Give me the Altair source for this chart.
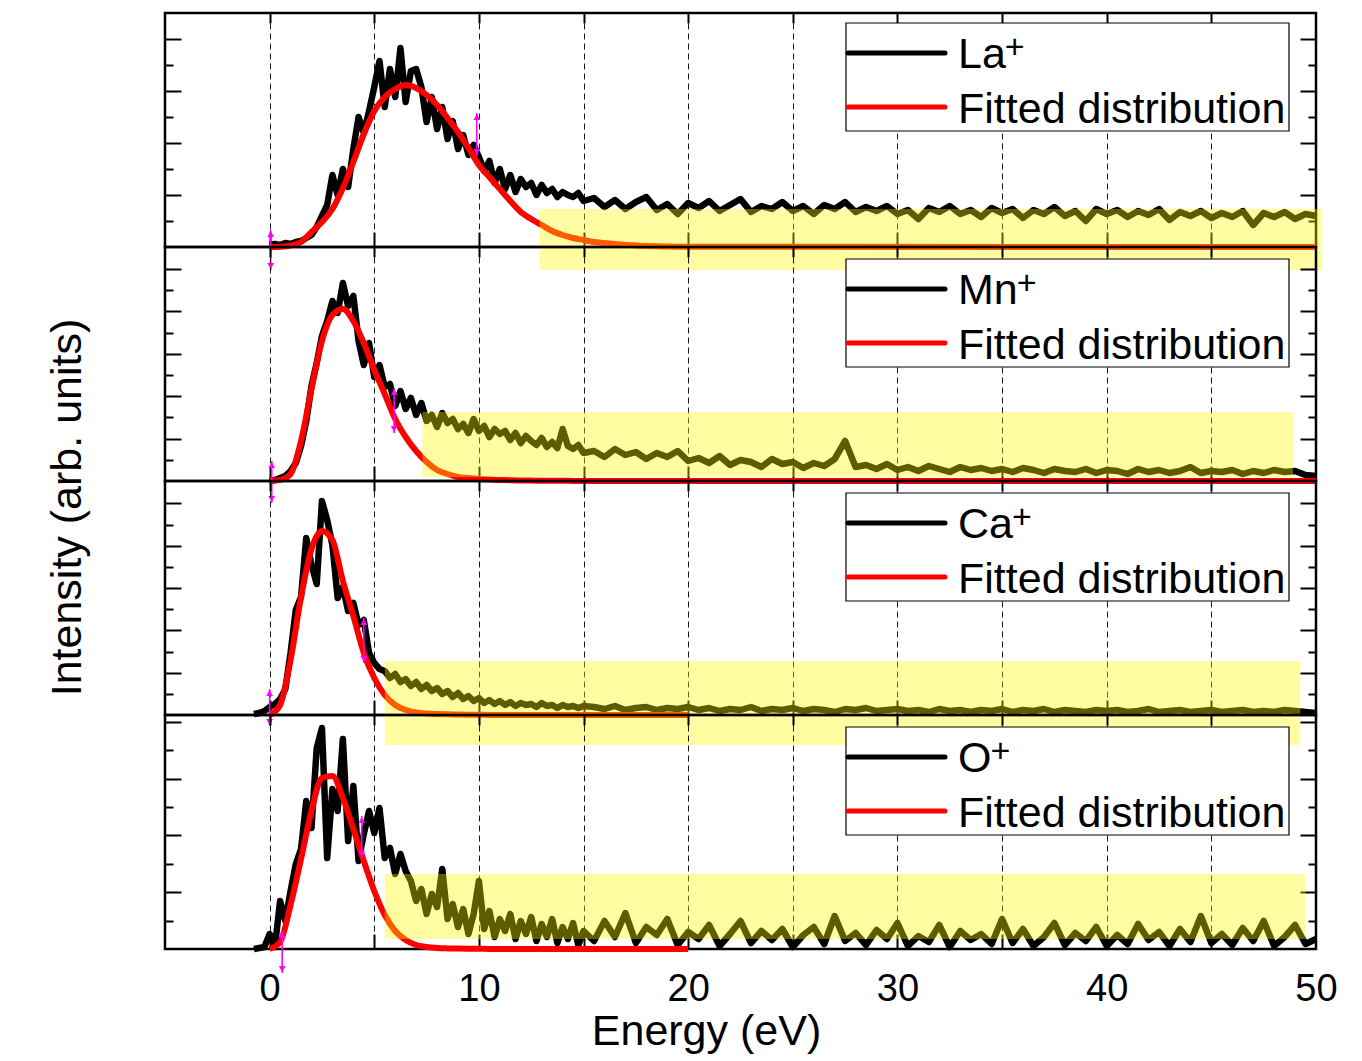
import altair as alt
import pandas as pd

FONT = "Liberation Sans"

# ------------------------------------------------------------------ data
ions = ["La", "Mn", "Ca", "O"]
charge = "+"
fit_label = "Fitted distribution"

energy_pre = [-0.75, -0.5, -0.25]
energy_peak = [round(0.25 * i, 2) for i in range(61)]          # 0 .. 15 eV
energy_tail = [round(15.5 + 0.5 * i, 1) for i in range(70)]    # 15.5 .. 50 eV
fit_energy = [0.5 * i for i in range(41)] + [50.0]              # 0 .. 20 eV, 50 eV

la_pre = [None, None, None]
la_peak = [2, 3, 2, 4, 3, 5, 6, 9, 12, 20,
           31, 42, 72, 52, 78, 60, 98, 130, 114, 136,
           160, 186, 140, 178, 150, 199, 145, 176, 178, 160,
           125,
           150, 118, 140, 108, 126, 98, 112, 92, 102, 90,
           76, 86, 64, 78, 58, 72, 55, 68, 60, 64,
           52, 62, 54, 58, 50, 55, 52, 50, 54, 46]
la_tail = [49, 40, 47, 38, 45, 50, 37, 43, 33, 44,
           39, 46, 36, 42, 48, 35, 41, 38, 45, 36,
           41, 33, 42, 38, 45, 35, 40, 36, 41, 33,
           37, 28, 39, 35, 41, 33, 37, 30, 39, 34,
           38, 29, 37, 33, 40, 31, 36, 26, 38, 33,
           37, 30, 36, 32, 38, 27, 35, 31, 36, 29,
           34, 30, 36, 22, 34, 30, 35, 28, 33, 31]
la_fit = [0, 0.3, 1.5, 5, 15, 25, 38, 59, 85, 113,
          136, 150, 158, 162, 159, 152, 142, 129, 115, 99,
          82, 70, 58, 46, 35, 28, 22, 16, 12, 9,
          7, 5, 4, 3, 2, 1.5, 1, 0.7, 0.5, 0.3,
          0.2, 0]

mn_pre = [None, None, None]
mn_peak = [0, 1, 3, 5, 10, 18, 35, 60, 95, 118,
           145, 160, 180, 168, 198, 175, 185, 140, 116, 138,
           104, 116, 94, 97, 75, 90, 72, 83, 66, 78,
           60, 66, 54, 68, 58, 62, 52, 57, 48, 62,
           50, 55, 44, 52, 47, 50, 41, 48, 38, 45,
           40, 36, 43, 34, 39, 33, 52, 35, 32, 36,
           28]
mn_tail = [30, 24, 32, 26, 29, 22, 28, 24, 30, 20,
           23, 18, 25, 16, 21, 19, 14, 22, 17, 19,
           13, 18, 15, 22, 40, 14, 16, 12, 17, 11,
           14, 10, 15, 12, 9, 14, 11, 13, 10, 12,
           9, 13, 11, 8, 12, 10, 9, 12, 8, 11,
           10, 7, 12, 9, 11, 8, 10, 14, 8, 10,
           9, 11, 7, 10, 8, 11, 9, 10, 6, 5]
mn_fit = [0, 1, 7, 40, 92, 140, 166, 172, 160, 138,
          111, 87, 62, 44, 30, 19, 11, 7, 4, 3,
          2, 1.5, 1, 0.7, 0.5, 0.4, 0.3, 0.2, 0.2, 0.1,
          0.1, 0.1, 0, 0, 0, 0, 0, 0, 0, 0,
          0, 0]

ca_pre = [1, 2, 4]
ca_peak = [8, 11, 16, 26, 62, 105, 118, 177, 150, 131,
           214, 195, 170, 117, 128, 104, 112, 90, 95, 62,
           52, 46, 44, 37, 41, 33, 36, 29, 33, 26,
           30, 24, 27, 21, 24, 18, 22, 16, 19, 14,
           17, 12, 15, 11, 14, 10, 13, 9, 12, 10,
           11, 8, 12, 9, 10, 7, 10, 8, 9, 7,
           9]
ca_tail = [8, 6, 9, 5, 7, 8, 5, 7, 6, 8,
           5, 7, 4, 6, 5, 8, 4, 6, 5, 7,
           4, 6, 5, 3, 6, 5, 7, 4, 5, 6,
           4, 5, 3, 6, 4, 5, 3, 5, 4, 6,
           3, 5, 4, 6, 3, 5, 4, 3, 5, 4,
           5, 3, 4, 6, 3, 4, 5, 3, 4, 5,
           3, 4, 5, 3, 4, 3, 5, 4, 3, 2]
ca_fit = [0, 10, 55, 118, 166, 184, 175, 134, 99, 62,
          37, 20, 10, 5, 2.5, 1.5, 1, 0.7, 0.5, 0.3,
          0.2, 0.1, 0.1, 0, 0, 0, 0, 0, 0, 0,
          0, 0, 0, 0, 0, 0, 0, 0, 0, 0,
          0, None]

o_pre = [0, 1, 2]
o_peak = [15, 2, 48, 28, 58, 85, 100, 148, 121, 201,
          221, 91, 160, 138, 210, 108, 163, 88, 115, 138,
          116, 141, 91, 101, 75, 95, 78, 68, 48, 60,
          35, 55, 42, 80, 30, 45, 22, 40, 15, 35,
          68, 20, 38, 12, 30, 18, 35, 10, 28, 15,
          32, 8, 25, 12, 30, 6, 22, 10, 26, 4,
          18]
o_tail = [8, 28, 12, 36, 6, 22, 14, 30, 4, 17,
          10, 24, 3, 15, 28, 6, 18, 9, 20, 2,
          14, 22, 5, 33, 8, 16, 4, 19, 10, 26,
          3, 13, 7, 24, 2, 18, 9, 15, 5, 30,
          6, 20, 3, 12, 26, 4, 16, 8, 22, 3,
          14, 5, 25, 9, 17, 3, 20, 7, 33, 6,
          15, 4, 21, 8, 28, 3, 12, 24, 5, 10]
o_fit = [0, 7, 44, 90, 138, 171, 173, 151, 120, 88,
         58, 34, 18, 9, 4, 2, 1, 0.6, 0.4, 0.3,
         0.2, 0.1, 0.1, 0, 0, 0, 0, 0, 0, 0,
         0, 0, 0, 0, 0, 0, 0, 0, 0, 0,
         0, None]

pre = [la_pre, mn_pre, ca_pre, o_pre]
peak = [la_peak, mn_peak, ca_peak, o_peak]
tail = [la_tail, mn_tail, ca_tail, o_tail]
fits = [la_fit, mn_fit, ca_fit, o_fit]

# highlighted (background) regions
band_x1 = [12.9, 7.3, 5.5, 5.5]
band_x2 = [50.3, 48.9, 49.25, 49.5]
band_y1 = [-23, 4, -30, 10]
band_y2 = [38, 69, 54, 75]

# magenta double arrows
arrow_x = [[0.05, 9.9], [0.1, 5.95], [0.0, 4.5], [0.6, 4.4]]
arrow_top = [[17, 134], [20, 93], [26, 97], [18, 133]]
arrow_bottom = [[-23, 91], [-22, 48], [-11, 52], [-24, 91]]

# y tick positions (arb. units) per panel
y_major = [[52, 104, 156, 208],
           [42.4, 84.8, 127.2, 169.6, 212],
           [42.3, 84.6, 126.9, 169.2, 211.5],
           [56.8, 113.6, 170.4, 227.2]]
y_minor = [[26, 78, 130, 182],
           [21.2, 63.6, 106, 148.4, 190.8],
           [21.15, 63.45, 105.75, 148.05, 190.35],
           [28.4, 85.2, 142, 198.8]]

x_ticks = [0, 5, 10, 15, 20, 25, 30, 35, 40, 45]
x_labels = [0, 10, 20, 30, 40, 50]

# ------------------------------------------------------------------ layout
W, H = 1151, 234
legend_top = [10, 12, 12, 12]
char_w = {"L": 0.556, "a": 0.556, "M": 0.833, "n": 0.556, "C": 0.722, "O": 0.778}
LEG_FS = 43


def no_axis_y(vals, orient, size, offset, title=None, **kw):
    return alt.Axis(orient=orient, values=vals, offset=offset, tickSize=size,
                    tickWidth=2, tickColor="black", labels=False, domain=False,
                    grid=False, title=title, **kw)


def make_panel(k):
    ion = ions[k]
    xs = alt.Scale(domain=[-5, 50], nice=False, zero=False)
    ys = alt.Scale(domain=[0, H], nice=False, zero=False)

    df_data = pd.DataFrame({"energy": energy_pre + energy_peak + energy_tail,
                            "intensity": pre[k] + peak[k] + tail[k]})
    df_fit = pd.DataFrame({"energy": fit_energy, "intensity": fits[k]})
    df_band = pd.DataFrame({"x1": [band_x1[k]], "x2": [band_x2[k]],
                            "y1": [band_y1[k]], "y2": [band_y2[k]]})
    df_arrow = pd.DataFrame({"energy": arrow_x[k], "top": arrow_top[k],
                             "bottom": arrow_bottom[k]})

    grid_axis = alt.Axis(orient="bottom", values=x_ticks, grid=True, gridColor="black",
                         gridDash=[6, 4], gridWidth=1, gridOpacity=0.9, ticks=False,
                         labels=False, domain=False, title=None)
    bottom_ticks = alt.Axis(orient="bottom", values=x_ticks, offset=-15, tickSize=15,
                            tickWidth=2, tickColor="black", labels=False, domain=False,
                            grid=False, title=None)
    top_ticks = alt.Axis(orient="top", values=x_ticks, offset=-10, tickSize=10,
                         tickWidth=2, tickColor="black", labels=False, domain=False,
                         grid=False, title=None)

    if k == 2:
        left_major = no_axis_y(y_major[k], "left", 16, -16,
                               title="Intensity (arb. units)",
                               titleFont=FONT, titleFontSize=43, titleFontWeight="normal",
                               titleColor="black", titleAngle=270, titleX=-114, titleY=26,
                               titleAlign="center", titleBaseline="middle")
    else:
        left_major = no_axis_y(y_major[k], "left", 16, -16)
    left_minor = no_axis_y(y_minor[k], "left", 8, -8)
    right_major = no_axis_y(y_major[k], "right", 16, -16)
    right_minor = no_axis_y(y_minor[k], "right", 8, -8)

    if k == 3:
        label_axis = alt.Axis(orient="bottom", values=x_labels, ticks=False, tickSize=0,
                              domain=False, grid=False, labelFont=FONT, labelFontSize=38,
                              labelColor="black", labelPadding=21, labelFlush=False,
                              labelOverlap=False, format="d", title="Energy (eV)",
                              titleFont=FONT, titleFontSize=43, titleFontWeight="normal",
                              titleColor="black", titleX=541, titleY=95,
                              titleAlign="center", titleBaseline="alphabetic")
    else:
        label_axis = None

    data_line = alt.Chart(df_data).mark_line(
        color="black", strokeWidth=6.5, strokeJoin="round").encode(
        x=alt.X("energy:Q", scale=xs, axis=grid_axis),
        y=alt.Y("intensity:Q", scale=ys, axis=left_major))

    fit_line = alt.Chart(df_fit).mark_line(
        color="#ff0000", strokeWidth=6, interpolate="monotone").encode(
        x=alt.X("energy:Q", scale=xs, axis=bottom_ticks),
        y=alt.Y("intensity:Q", scale=ys, axis=left_minor))

    band = alt.Chart(df_band).mark_rect(color="#fff700", opacity=0.37).encode(
        x=alt.X("x1:Q", scale=xs, axis=top_ticks), x2="x2:Q",
        y=alt.Y("y1:Q", scale=ys, axis=right_major), y2="y2:Q")

    arrow_line = alt.Chart(df_arrow).mark_rule(color="#ff00ff", strokeWidth=1.6).encode(
        x=alt.X("energy:Q", scale=xs, axis=label_axis),
        y=alt.Y("top:Q", scale=ys, axis=right_minor), y2="bottom:Q")
    arrow_up = alt.Chart(df_arrow).mark_point(
        shape="triangle-up", filled=True, size=45, color="#ff00ff", opacity=1,
        yOffset=4).encode(
        x=alt.X("energy:Q", scale=xs, axis=None),
        y=alt.Y("top:Q", scale=ys, axis=None))
    arrow_dn = alt.Chart(df_arrow).mark_point(
        shape="triangle-down", filled=True, size=45, color="#ff00ff", opacity=1,
        yOffset=-4).encode(
        x=alt.X("energy:Q", scale=xs, axis=None),
        y=alt.Y("bottom:Q", scale=ys, axis=None))

    bt = legend_top[k]
    one = pd.DataFrame({"ion": [ion], "fit": [fit_label], "charge": [charge]})
    box = alt.Chart(one).mark_rect(fill="white", stroke="black", strokeWidth=1.2).encode(
        x=alt.value(681), x2=alt.value(1124), y=alt.value(bt), y2=alt.value(bt + 108))
    sample_data = alt.Chart(one).mark_rule(color="black", strokeWidth=5, strokeCap="round").encode(
        x=alt.value(683), x2=alt.value(780), y=alt.value(bt + 30))
    sample_fit = alt.Chart(one).mark_rule(color="#ff0000", strokeWidth=5, strokeCap="round").encode(
        x=alt.value(683), x2=alt.value(780), y=alt.value(bt + 84))
    text_ion = alt.Chart(one).mark_text(
        align="left", baseline="alphabetic", font=FONT, fontSize=LEG_FS, color="black").encode(
        x=alt.value(793), y=alt.value(bt + 45), text="ion:N")
    w_ion = sum(char_w[c] for c in ion) * LEG_FS
    text_charge = alt.Chart(one).mark_text(
        align="left", baseline="alphabetic", font=FONT, fontSize=34, color="black").encode(
        x=alt.value(793 + w_ion - 1), y=alt.value(bt + 35), text="charge:N")
    text_fit = alt.Chart(one).mark_text(
        align="left", baseline="alphabetic", font=FONT, fontSize=LEG_FS, color="black").encode(
        x=alt.value(793), y=alt.value(bt + 100), text="fit:N")

    return alt.layer(
        data_line, fit_line, band, arrow_line, arrow_up, arrow_dn,
        box, sample_data, sample_fit, text_ion, text_charge, text_fit
    ).resolve_axis(x="independent", y="independent").properties(width=W, height=H)


chart = alt.vconcat(*[make_panel(k) for k in range(4)], spacing=0, bounds="flush").properties(
    padding={"left": 36, "top": 2, "right": 5, "bottom": 0}
).configure_view(stroke="black", strokeWidth=2.5)

chart.save("out.html", embed_options={"renderer": "svg", "actions": False})
